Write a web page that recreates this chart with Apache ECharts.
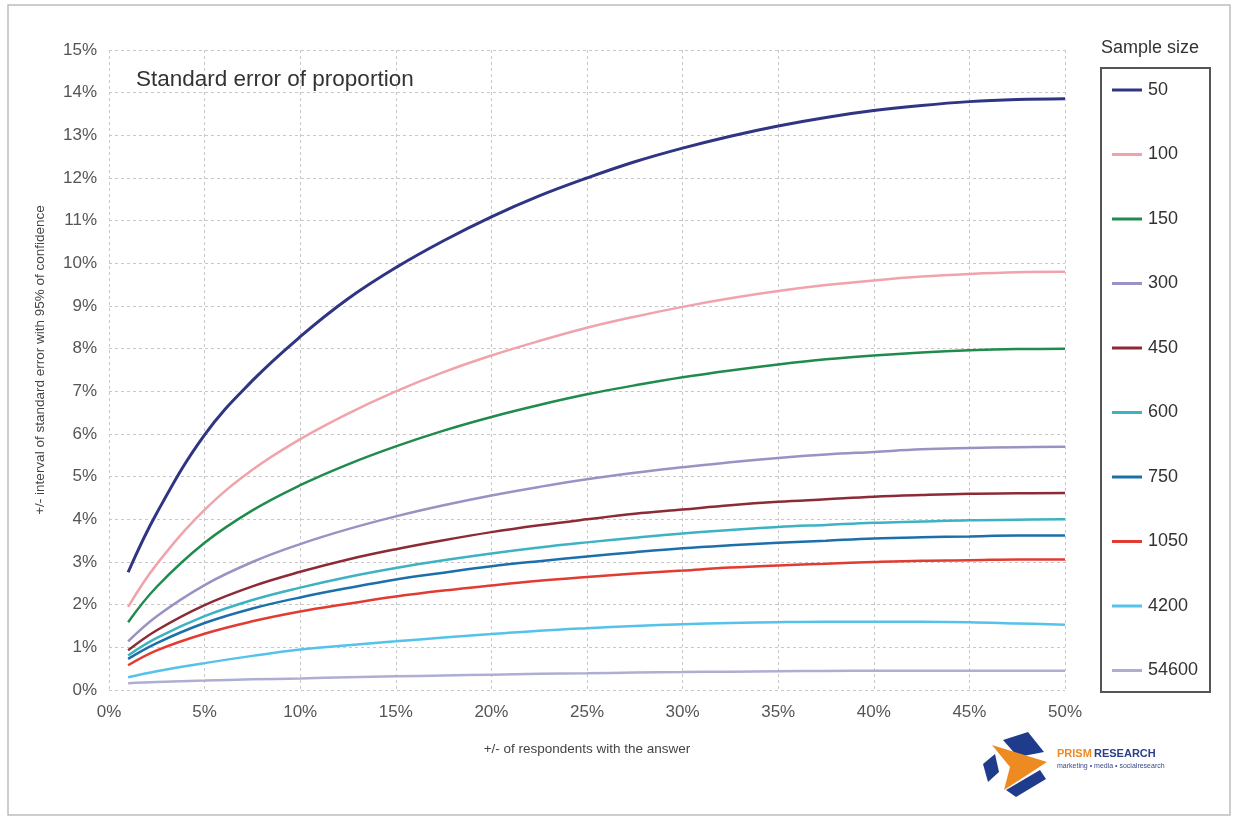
<!DOCTYPE html>
<html>
<head>
<meta charset="utf-8">
<script src="https://cdn.jsdelivr.net/npm/echarts@6/dist/echarts.min.js"></script>
<style>
  html, body { margin: 0; padding: 0; background: #fff; }
  #main { width: 1235px; height: 821px; }
</style>
</head>
<body>
<div id="main"></div>
<script>
// share of respondents (%)
var xValues = [1, 2.5, 5, 7.5, 10, 12.5, 15, 17.5, 20, 22.5, 25, 27.5, 30, 32.5, 35, 37.5, 40, 42.5, 45, 47.5, 50];

var sampleSizes = ['50', '100', '150', '300', '450', '600', '750', '1050', '4200', '54600'];
var lineColors = ['#2f3583', '#f0a3ab', '#1f8b4c', '#9b92c4', '#8c2b36', '#3db2c2', '#1b6fab', '#e23b31', '#55c2ea', '#aeaed4'];

var n50    = [2.76, 4.15, 5.98, 7.25, 8.28, 9.17, 9.90, 10.53, 11.09, 11.58, 12.00, 12.38, 12.70, 12.98, 13.22, 13.42, 13.58, 13.70, 13.79, 13.84, 13.86];
var n100   = [1.95, 2.95, 4.22, 5.16, 5.88, 6.48, 7.00, 7.45, 7.84, 8.18, 8.49, 8.75, 8.98, 9.18, 9.35, 9.49, 9.60, 9.69, 9.75, 9.79, 9.80];
var n150   = [1.59, 2.42, 3.45, 4.21, 4.80, 5.29, 5.71, 6.08, 6.40, 6.68, 6.93, 7.14, 7.33, 7.49, 7.63, 7.75, 7.84, 7.91, 7.96, 7.99, 8.00];
var n300   = [1.14, 1.73, 2.46, 3.00, 3.42, 3.77, 4.07, 4.33, 4.56, 4.76, 4.94, 5.09, 5.22, 5.34, 5.44, 5.52, 5.58, 5.64, 5.67, 5.69, 5.70];
var n450   = [0.93, 1.40, 1.99, 2.43, 2.77, 3.06, 3.30, 3.51, 3.70, 3.86, 4.00, 4.13, 4.23, 4.33, 4.41, 4.47, 4.53, 4.57, 4.60, 4.61, 4.62];
var n600   = [0.81, 1.22, 1.73, 2.11, 2.40, 2.65, 2.86, 3.04, 3.20, 3.34, 3.46, 3.57, 3.67, 3.75, 3.82, 3.87, 3.92, 3.95, 3.98, 3.99, 4.00];
var n750   = [0.73, 1.10, 1.57, 1.91, 2.17, 2.39, 2.59, 2.75, 2.90, 3.02, 3.13, 3.23, 3.32, 3.39, 3.45, 3.50, 3.55, 3.58, 3.60, 3.62, 3.62];
var n1050  = [0.58, 0.93, 1.32, 1.61, 1.84, 2.02, 2.19, 2.33, 2.45, 2.56, 2.65, 2.73, 2.80, 2.87, 2.92, 2.96, 3.00, 3.03, 3.04, 3.06, 3.06];
var n4200  = [0.30, 0.44, 0.63, 0.80, 0.95, 1.05, 1.14, 1.23, 1.31, 1.39, 1.45, 1.50, 1.54, 1.57, 1.59, 1.60, 1.60, 1.60, 1.59, 1.56, 1.53];
var n54600 = [0.16, 0.19, 0.22, 0.25, 0.27, 0.30, 0.32, 0.34, 0.36, 0.38, 0.39, 0.41, 0.42, 0.43, 0.44, 0.445, 0.45, 0.45, 0.45, 0.45, 0.45];

var seriesValues = [n50, n100, n150, n300, n450, n600, n750, n1050, n4200, n54600];

var myChart = echarts.init(document.getElementById('main'));

var series = [];
$each = function(arr, fn){ for (var i = 0; i < arr.length; i++) fn(i, arr[i]); };
$each(sampleSizes, function(index, name){
    var pts = [];
    $each(xValues, function(j, x){ pts.push([x, seriesValues[index][j]]); });
    series.push({
        name: name,
        type: 'line',
        smooth: 0.4,
        showSymbol: false,
        data: pts,
        lineStyle: { width: index == 0 ? 3 : 2.5, color: lineColors[index] },
        itemStyle: { color: lineColors[index] }
    });
});

var option = {
    backgroundColor: '#fff',
    color: lineColors,
    animation: false,
    title: {
        text: 'Standard error of proportion',
        left: 131,
        top: 63,
        textStyle: { fontFamily: 'Liberation Sans', fontSize: 22.5, fontWeight: 'normal', color: '#333' }
    },
    grid: { left: 109, right: 170, top: 50, bottom: 131 },
    legend: {
        orient: 'vertical',
        left: 1107,
        top: 76,
        icon: 'rect',
        itemWidth: 30,
        itemHeight: 3,
        itemGap: 46.5,
        textStyle: { fontFamily: 'Liberation Sans', fontSize: 18, color: '#333', padding: [0, 0, 0, 1] },
        data: sampleSizes
    },
    xAxis: {
        type: 'value',
        min: 0,
        max: 50,
        interval: 5,
        name: '+/- of respondents with the answer',
        nameLocation: 'middle',
        nameGap: 52,
        nameTextStyle: { fontFamily: 'Liberation Sans', fontSize: 13.5, color: '#444' },
        axisLine: { show: false },
        axisTick: { show: false },
        axisLabel: { formatter: '{value}%', fontFamily: 'Liberation Sans', fontSize: 17, color: '#555', margin: 14 },
        splitLine: { show: true, lineStyle: { type: [3, 3], color: '#c8c8c8', width: 1 } }
    },
    yAxis: {
        type: 'value',
        min: 0,
        max: 15,
        interval: 1,
        axisLine: { show: false },
        axisTick: { show: false },
        axisLabel: { formatter: '{value}%', fontFamily: 'Liberation Sans', fontSize: 17, color: '#555', margin: 12 },
        splitLine: { show: true, lineStyle: { type: [3, 3], color: '#c8c8c8', width: 1 } }
    },
    graphic: [
        { type: 'rect', shape: { x: 8, y: 5, width: 1222, height: 810 }, style: { fill: 'none', stroke: '#bdbdbd', lineWidth: 1.5 }, silent: true },
        { type: 'rect', shape: { x: 1101, y: 68, width: 109, height: 624 }, style: { fill: 'none', stroke: '#555', lineWidth: 2 }, silent: true },
        { type: 'text', x: 1150, y: 48, style: { text: 'Sample size', fontFamily: 'Liberation Sans', fontSize: 18, fill: '#333', textAlign: 'center', textVerticalAlign: 'middle' } },
        { type: 'text', x: 40, y: 360, rotation: Math.PI / 2, style: { text: '+/- interval of standard error with 95% of confidence', fontFamily: 'Liberation Sans', fontSize: 13.5, fill: '#444', textAlign: 'center', textVerticalAlign: 'middle' } },
        // logo
        { type: 'polygon', shape: { points: [[1003, 740], [1028, 732], [1044, 752], [1018, 757]] }, style: { fill: '#1f3c8c' } },
        { type: 'polygon', shape: { points: [[983, 764], [995, 754], [999, 772], [988, 782]] }, style: { fill: '#1f3c8c' } },
        { type: 'polygon', shape: { points: [[1006, 790], [1040, 770], [1046, 779], [1016, 797]] }, style: { fill: '#1f3c8c' } },
        { type: 'polygon', shape: { points: [[992, 745], [1047, 762], [1004, 790], [1010, 767]] }, style: { fill: '#ee8a22' } },
        { type: 'text', x: 1057, y: 754, style: { text: 'PRISM', fontFamily: 'Liberation Sans', fontSize: 11, fontWeight: 'bold', fill: '#ee8a22', textVerticalAlign: 'middle' } },
        { type: 'text', x: 1094, y: 754, style: { text: 'RESEARCH', fontFamily: 'Liberation Sans', fontSize: 11, fontWeight: 'bold', fill: '#2a3f8c', textVerticalAlign: 'middle' } },
        { type: 'text', x: 1057, y: 766, style: { text: 'marketing \u2022 media \u2022 socialresearch', fontFamily: 'Liberation Sans', fontSize: 7, fill: '#3a4a8c', textVerticalAlign: 'middle' } }
    ],
    series: series
};
myChart.setOption(option);
</script>
</body>
</html>
